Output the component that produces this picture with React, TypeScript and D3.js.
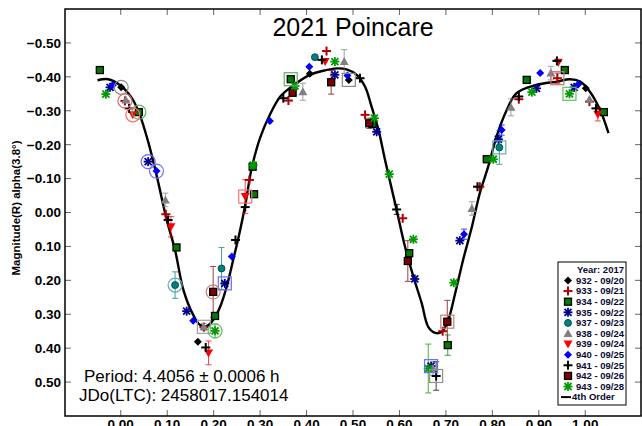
import React from "react";
import * as d3 from "d3";

const W = 642;
const H = 426;

// ---------- data ----------
const titleText = "2021 Poincare";
const yTitle = "Magnitude(R) alpha(3.8°)";
const periodText = "Period: 4.4056 ± 0.0006 h";
const epochText = "JDo(LTC): 2458017.154014";
const legendTitle = "Year: 2017";
const fitLabel = "4th Order";

const xTicks = [0, 0.1, 0.2, 0.3, 0.4, 0.5, 0.6, 0.7, 0.8, 0.9, 1.0];
const yTicks = [-0.5, -0.4, -0.3, -0.2, -0.1, 0, 0.1, 0.2, 0.3, 0.4, 0.5];

// 4th order fit
const curvePhase = [-0.05, -0.027, -0.002, 0.024, 0.041, 0.059, 0.077, 0.099, 0.117, 0.135, 0.156, 0.171, 0.185, 0.199, 0.214, 0.228, 0.242, 0.257, 0.268, 0.282, 0.3, 0.321, 0.343, 0.364, 0.407, 0.436, 0.465, 0.486, 0.508, 0.526, 0.54, 0.555, 0.569, 0.594, 0.612, 0.63, 0.648, 0.662, 0.677, 0.691, 0.705, 0.72, 0.737, 0.756, 0.773, 0.791, 0.809, 0.831, 0.852, 0.895, 0.939, 0.967, 0.989, 1.01, 1.032, 1.05];
const curveMag = [-0.39, -0.393, -0.376, -0.337, -0.288, -0.209, -0.111, 0.022, 0.111, 0.229, 0.302, 0.332, 0.335, 0.317, 0.278, 0.219, 0.14, 0.052, -0.022, -0.131, -0.22, -0.288, -0.341, -0.367, -0.406, -0.418, -0.425, -0.422, -0.406, -0.371, -0.312, -0.243, -0.155, -0.007, 0.101, 0.189, 0.268, 0.337, 0.355, 0.352, 0.317, 0.238, 0.14, 0.042, -0.057, -0.135, -0.224, -0.302, -0.352, -0.376, -0.386, -0.393, -0.386, -0.356, -0.302, -0.234];

// [phase, magnitude, error, mark]
type Pt = [number, number, number, string];
const d932: Pt[] = [[0.001, -0.369, 0, "c"], [0.166, 0.381, 0, ""], [0.407, -0.409, 0, ""], [0.491, -0.391, 0, "s"], [1.001, -0.366, 0, ""]];
const d933: Pt[] = [[0.009, -0.329, 0, "c"], [0.097, 0.005, 0, ""], [0.179, 0.338, 0, ""], [0.277, -0.096, 0, ""], [0.361, -0.33, 0, ""], [0.443, -0.476, 0, ""], [0.526, -0.288, 0, ""], [0.607, 0.017, 0, ""], [0.693, 0.35, 0, ""], [0.773, -0.076, 0, ""], [0.857, -0.334, 0, ""], [0.94, -0.396, 0.015, "s"], [1.009, -0.327, 0, ""]];
const d934: Pt[] = [[-0.045, -0.42, 0, ""], [0.039, -0.296, 0, "c"], [0.12, 0.103, 0, ""], [0.203, 0.305, 0, ""], [0.284, -0.135, 0, ""], [0.287, -0.054, 0, ""], [0.366, -0.393, 0, "s"], [0.542, -0.261, 0, ""], [0.621, 0.12, 0, ""], [0.704, 0.391, 0.03, ""], [0.788, -0.157, 0, ""], [0.874, -0.391, 0, ""], [0.956, -0.42, 0, ""], [1.04, -0.296, 0, ""]];
const d935: Pt[] = [[-0.023, -0.369, 0, ""], [0.059, -0.15, 0, "c"], [0.142, 0.291, 0, ""], [0.224, 0.209, 0, "s"], [0.461, -0.406, 0, ""], [0.551, -0.238, 0, ""], [0.633, 0.196, 0, ""], [0.668, 0.453, 0, "s"], [0.73, 0.083, 0, ""], [0.813, -0.216, 0, ""], [0.895, -0.366, 0, ""], [0.976, -0.369, 0, ""]];
const d937: Pt[] = [[0.117, 0.214, 0.039, "c"], [0.217, 0.165, 0.062, ""], [0.418, -0.458, 0, ""], [0.815, -0.192, 0.05, "s"]];
const d938: Pt[] = [[0.011, -0.332, 0, ""], [0.096, -0.037, 0.02, ""], [0.179, 0.337, 0.01, "s"], [0.392, -0.356, 0.025, ""], [0.481, -0.445, 0.035, ""], [0.672, 0.46, 0.02, ""], [0.756, -0.012, 0.02, ""], [0.84, -0.31, 0.025, ""], [0.926, -0.411, 0.02, ""], [1.009, -0.334, 0, ""]];
const d939: Pt[] = [[0.026, -0.288, 0, "c"], [0.108, 0.042, 0.03, ""], [0.189, 0.414, 0.035, ""], [0.268, -0.047, 0.05, "s"], [0.44, -0.445, 0, ""], [0.942, -0.443, 0, ""], [1.027, -0.29, 0.02, ""]];
const d940: Pt[] = [[-0.017, -0.376, 0, ""], [0.077, -0.122, 0, "c"], [0.156, 0.319, 0, ""], [0.239, 0.13, 0, ""], [0.321, -0.27, 0, ""], [0.406, -0.43, 0, ""], [0.488, -0.404, 0, ""], [0.739, 0.064, 0.015, ""], [0.82, -0.243, 0.015, ""], [0.903, -0.411, 0, ""], [0.985, -0.378, 0, ""]];
const d941: Pt[] = [[0.018, -0.307, 0, ""], [0.102, 0.022, 0, ""], [0.183, 0.398, 0, ""], [0.247, 0.081, 0, ""], [0.268, -0.016, 0, ""], [0.35, -0.337, 0, ""], [0.433, -0.45, 0, ""], [0.515, -0.396, 0, ""], [0.594, -0.009, 0.015, ""], [0.679, 0.482, 0.042, "s"], [0.768, -0.076, 0, ""], [0.857, -0.342, 0, ""], [0.939, -0.447, 0, ""], [1.023, -0.307, 0, ""]];
const d942: Pt[] = [[0.199, 0.234, 0.075, "c"], [0.37, -0.353, 0, ""], [0.453, -0.384, 0.035, ""], [0.535, -0.263, 0.015, ""], [0.618, 0.143, 0.06, ""], [0.703, 0.322, 0.063, "s"]];
const d943: Pt[] = [[-0.032, -0.349, 0, ""], [0.203, 0.349, 0.02, "c"], [0.285, -0.14, 0, ""], [0.375, -0.373, 0, ""], [0.461, -0.445, 0, ""], [0.546, -0.278, 0, ""], [0.578, -0.113, 0, ""], [0.63, 0.079, 0, ""], [0.662, 0.46, 0.072, ""], [0.717, 0.207, 0, ""], [0.802, -0.157, 0, ""], [0.885, -0.355, 0, ""], [0.966, -0.35, 0, "s"]];

const seriesLabels = ["932 - 09/20", "933 - 09/21", "934 - 09/22", "935 - 09/22", "937 - 09/23", "938 - 09/24", "939 - 09/24", "940 - 09/25", "941 - 09/25", "942 - 09/26", "943 - 09/28"];
const seriesData = [d932, d933, d934, d935, d937, d938, d939, d940, d941, d942, d943];

// ---------- styles ----------
const STYLES = [
  { shape: "diamond", color: "#000000", ring: "#8a8a8a" },
  { shape: "plus", color: "#b00000", ring: "#d07070" },
  { shape: "square", color: "#007a00", ring: "#60b060" },
  { shape: "asterisk", color: "#00008c", ring: "#6a6aff" },
  { shape: "circle", color: "#008080", ring: "#60b0b0" },
  { shape: "triUp", color: "#808080", ring: "#a0a0a0" },
  { shape: "triDown", color: "#ff0000", ring: "#ff7070" },
  { shape: "diamond", color: "#0000ff", ring: "#7070ff" },
  { shape: "plus", color: "#000000", ring: "#909090" },
  { shape: "square", color: "#800000", ring: "#c08080" },
  { shape: "asterisk", color: "#009a00", ring: "#60c060" },
];

const FONT = "'Liberation Sans', Arial, Helvetica, sans-serif";

function Marker({ shape, x, y, color }: { shape: string; x: number; y: number; color: string }) {
  const s = 4;
  switch (shape) {
    case "diamond":
      return <path d={`M${x},${y - s}L${x + s},${y}L${x},${y + s}L${x - s},${y}Z`} fill={color} />;
    case "plus":
      return (
        <g stroke={color} strokeWidth={2}>
          <line x1={x - 4.5} x2={x + 4.5} y1={y} y2={y} />
          <line x1={x} x2={x} y1={y - 4.5} y2={y + 4.5} />
        </g>
      );
    case "square":
      return <rect x={x - 3.5} y={y - 3.5} width={7} height={7} fill={color} stroke="#000" strokeWidth={1.3} />;
    case "asterisk":
      return (
        <g stroke={color} strokeWidth={1.8}>
          <line x1={x - 4.5} x2={x + 4.5} y1={y} y2={y} />
          <line x1={x} x2={x} y1={y - 4.5} y2={y + 4.5} />
          <line x1={x - 3.5} x2={x + 3.5} y1={y - 3.5} y2={y + 3.5} />
          <line x1={x - 3.5} x2={x + 3.5} y1={y + 3.5} y2={y - 3.5} />
        </g>
      );
    case "circle":
      return <circle cx={x} cy={y} r={3.5} fill={color} stroke="#004040" strokeWidth={0.8} />;
    case "triUp":
      return <path d={`M${x},${y - 4.5}L${x + 4.5},${y + 3.5}L${x - 4.5},${y + 3.5}Z`} fill={color} />;
    case "triDown":
      return <path d={`M${x},${y + 4.5}L${x + 4.5},${y - 3.5}L${x - 4.5},${y - 3.5}Z`} fill={color} />;
    default:
      return null;
  }
}

export default function App() {
  const left = 65, right = 641, top = 9, bottom = 416;
  const x = d3.scaleLinear().domain([-0.12, 1.12]).range([left, right]);
  const y = d3.scaleLinear().domain([-0.6, 0.6]).range([top, bottom]);
  const fmt = (v: number) => (Math.abs(v) < 1e-9 ? "0.00" : d3.format(".2f")(v));

  const curvePts: [number, number][] = curvePhase.map((p, i) => [p, curveMag[i]]);
  const line = d3
    .line<[number, number]>()
    .x((d) => x(d[0]))
    .y((d) => y(d[1]))
    .curve(d3.curveCatmullRom.alpha(0.5));

  const tickLen = 6;
  const legX = 558, legY = 262, legW = 68, legH = 143;
  const rowY = (i: number) => 280.5 + i * 10.6;

  return (
    <svg width={W} height={H} style={{ position: "absolute", left: 0, top: 0, background: "#fff" }} fontFamily={FONT}>
      <rect x={0} y={0} width={W} height={H} fill="#fff" />
      {/* ticks */}
      <g stroke="#666" strokeWidth={1}>
        {xTicks.map((t) => (
          <g key={"xt" + t}>
            <line x1={x(t)} x2={x(t)} y1={bottom} y2={bottom - tickLen} />
            <line x1={x(t)} x2={x(t)} y1={top} y2={top + tickLen} />
          </g>
        ))}
        {yTicks.map((t) => (
          <g key={"yt" + t}>
            <line x1={left} x2={left + tickLen} y1={y(t)} y2={y(t)} />
            <line x1={right} x2={right - tickLen} y1={y(t)} y2={y(t)} />
          </g>
        ))}
      </g>
      {/* tick labels */}
      <g fontSize={13.5} fontWeight="bold" fill="#000">
        {xTicks.map((t) => (
          <text key={"xl" + t} x={x(t)} y={429} textAnchor="middle">{fmt(t)}</text>
        ))}
        {yTicks.map((t) => (
          <text key={"yl" + t} x={61} y={y(t)} dy="0.36em" textAnchor="end">{fmt(t)}</text>
        ))}
      </g>
      <text transform="translate(20,208) rotate(-90)" textAnchor="middle" fontSize={11.5} fontWeight="bold">{yTitle}</text>
      <text x={353} y={36} textAnchor="middle" fontSize={25}>{titleText}</text>

      {/* fit curve */}
      <path d={line(curvePts) || ""} fill="none" stroke="#000" strokeWidth={2.4} />

      {/* error bars */}
      {seriesData.map((arr, si) => (
        <g key={"eb" + si} stroke={STYLES[si].color} strokeWidth={1} opacity={0.75}>
          {arr.filter((d) => d[2] > 0).map((d, i) => (
            <g key={i}>
              <line x1={x(d[0])} x2={x(d[0])} y1={y(d[1] - d[2])} y2={y(d[1] + d[2])} />
              <line x1={x(d[0]) - 3} x2={x(d[0]) + 3} y1={y(d[1] - d[2])} y2={y(d[1] - d[2])} />
              <line x1={x(d[0]) - 3} x2={x(d[0]) + 3} y1={y(d[1] + d[2])} y2={y(d[1] + d[2])} />
            </g>
          ))}
        </g>
      ))}

      {/* points */}
      {seriesData.map((arr, si) => (
        <g key={"pt" + si}>
          {arr.map((d, i) => (
            <Marker key={i} shape={STYLES[si].shape} x={x(d[0])} y={y(d[1])} color={STYLES[si].color} />
          ))}
        </g>
      ))}
      {/* session marks */}
      {seriesData.map((arr, si) => (
        <g key={"rg" + si} fill="none" stroke={STYLES[si].ring} strokeWidth={1.2}>
          {arr.filter((d) => d[3] !== "").map((d, i) =>
            d[3] === "c" ? (
              <circle key={i} cx={x(d[0])} cy={y(d[1])} r={7} />
            ) : (
              <rect key={i} x={x(d[0]) - 6.5} y={y(d[1]) - 6.5} width={13} height={13} />
            )
          )}
        </g>
      ))}

      {/* period text */}
      <text x={84} y={382} fontSize={17}>{periodText}</text>
      <text x={79} y={401} fontSize={17}>{epochText}</text>

      {/* legend */}
      <rect x={legX} y={legY} width={legW} height={legH} fill="#fff" stroke="#000" strokeWidth={1} />
      <g fontSize={9.5} fontWeight="bold" fill="#0a0a30">
        <text x={legX + legW - 2} y={270} dy="0.35em" textAnchor="end">{legendTitle}</text>
        {seriesLabels.map((lab, i) => (
          <g key={lab}>
            <Marker shape={STYLES[i].shape} x={568} y={rowY(i)} color={STYLES[i].color} />
            <text x={576} y={rowY(i)} dy="0.35em">{lab}</text>
          </g>
        ))}
        <line x1={561} x2={571} y1={rowY(11)} y2={rowY(11)} stroke="#000" strokeWidth={2} />
        <text x={572} y={rowY(11)} dy="0.35em">{fitLabel}</text>
      </g>

      {/* frame */}
      <rect x={left} y={top} width={right - left} height={bottom - top} fill="none" stroke="#000" strokeWidth={1.5} />
    </svg>
  );
}
